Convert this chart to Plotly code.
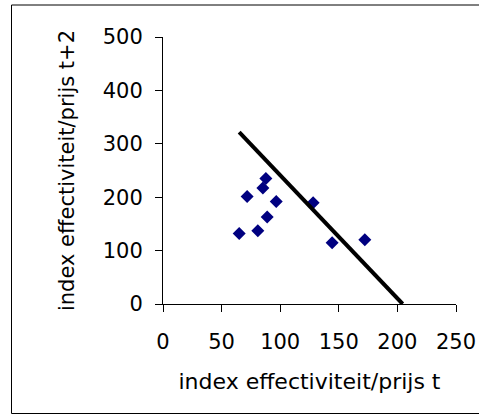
import plotly.graph_objects as go

# data
x_vals = [65.0, 71.8, 80.9, 85.2, 87.8, 88.9, 96.6, 128.1, 144.3, 172.2]
y_vals = [132.2, 201.5, 137.3, 217.2, 235.2, 162.9, 192.1, 189.7, 114.8, 120.4]
line_x = [65.0, 204.5]
line_y = [322.0, 0.0]
x_ticks = [0, 50, 100, 150, 200, 250]
y_ticks = [0, 100, 200, 300, 400, 500]
x_title = "index effectiviteit/prijs t"
y_title = "index effectiviteit/prijs t+2"

FONT = "DejaVu Sans"

fig = go.Figure()
fig.add_trace(go.Scatter(
    x=x_vals, y=y_vals, mode="markers",
    marker=dict(symbol="diamond", size=10, color="#000080",
                line=dict(width=0)),
    showlegend=False, hoverinfo="skip"))
fig.add_trace(go.Scatter(
    x=line_x, y=line_y, mode="lines",
    line=dict(color="black", width=4),
    showlegend=False, hoverinfo="skip"))

L, R, T, B = 163, 23, 37, 111
W, H = 479, 415
pw, ph = W - L - R, H - T - B


def px(xp):
    return (xp - L) / pw


def py(yp):
    return (H - B - yp) / ph


border = dict(color="black", width=1)
fig.update_layout(
    width=W, height=H,
    margin=dict(l=L, r=R, t=T, b=B, pad=0, autoexpand=False),
    paper_bgcolor="white", plot_bgcolor="white",
    font=dict(family=FONT, size=21, color="black"),
    xaxis=dict(range=[0, 250], tickvals=x_ticks, ticks="outside", ticklen=7,
               tickcolor="black", tickwidth=1, showline=True, linecolor="black",
               linewidth=1, showgrid=False, zeroline=False,
               tickfont=dict(family=FONT, size=21, color="black"),
               ticklabelstandoff=12, automargin=False,
               title=dict(text=x_title, standoff=20,
                          font=dict(family=FONT, size=22, color="black"))),
    yaxis=dict(range=[0, 500], tickvals=y_ticks, ticks="outside", ticklen=7,
               tickcolor="black", tickwidth=1, showline=True, linecolor="black",
               linewidth=1, showgrid=False, zeroline=False,
               tickfont=dict(family=FONT, size=21, color="black"),
               ticklabelstandoff=8, automargin=False,
               title=dict(text=y_title, standoff=22,
                          font=dict(family=FONT, size=21, color="black"))),
    shapes=[
        dict(type="line", xref="paper", yref="paper",
             x0=px(11.5), x1=px(479), y0=py(5), y1=py(5), line=border),
        dict(type="line", xref="paper", yref="paper",
             x0=px(11.5), x1=px(479), y0=py(413.5), y1=py(413.5), line=border),
        dict(type="line", xref="paper", yref="paper",
             x0=px(11.5), x1=px(11.5), y0=py(5), y1=py(413.5), line=border),
    ],
)

fig.write_html("out.html")
